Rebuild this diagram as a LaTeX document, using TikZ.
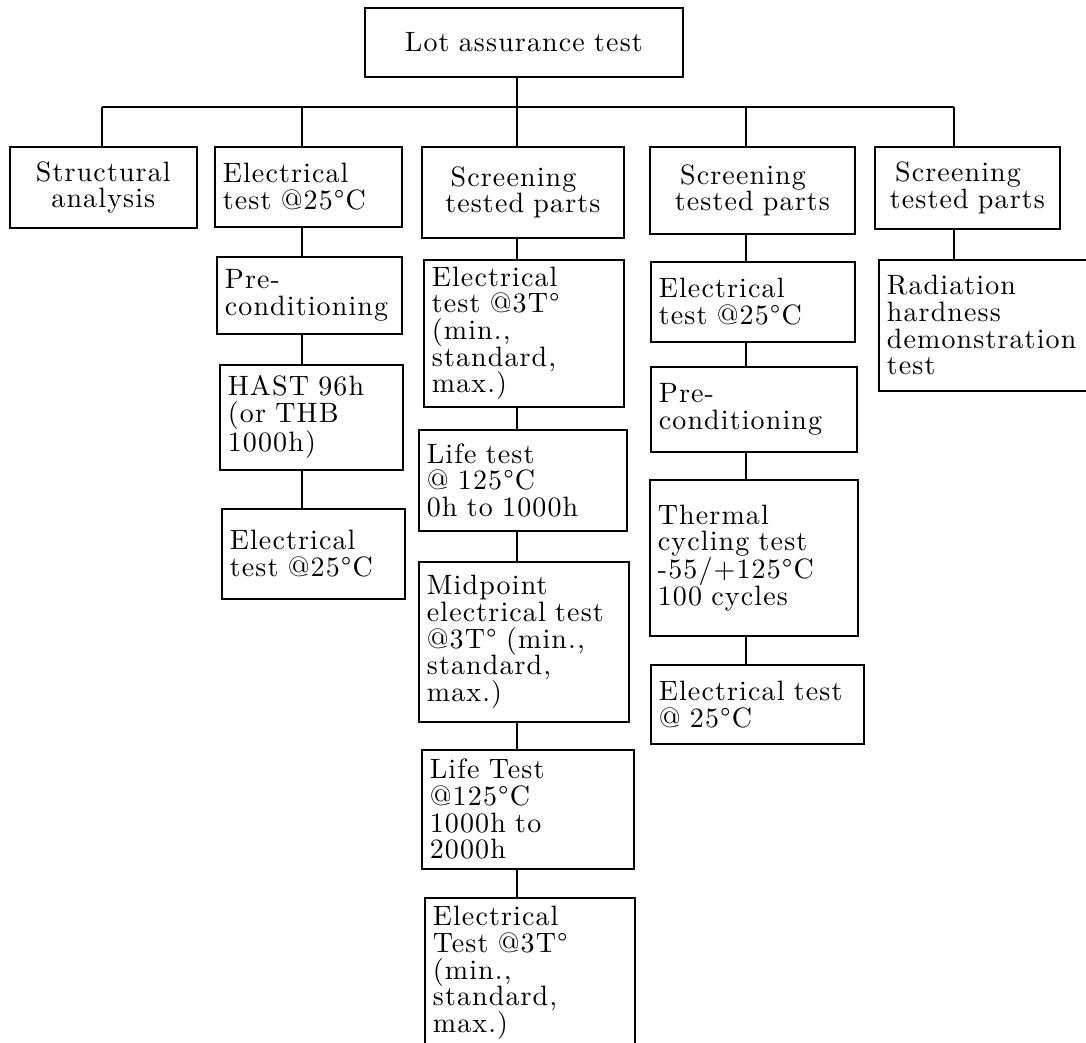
\documentclass[tikz,border=0pt]{standalone}
\usepackage{fontspec}
\setmainfont{lmroman10-regular.otf}[BoldFont=lmroman10-bold.otf, ItalicFont=lmroman10-italic.otf, LetterSpace=4]
\begin{document}
\begin{tikzpicture}[x=0.75pt,y=-0.75pt,
  box/.style={draw, line width=1.3pt, inner ysep=0pt, inner xsep=6pt, anchor=north west,
              font=\fontsize{21}{20}\selectfont, align=left},
  cbox/.style={box, align=center},
  conn/.style={line width=1.5pt},
  busline/.style={line width=1.8pt}]
\useasboundingbox (0,0) rectangle (1086,1043);

% top
\node[cbox, text width=226.5pt, minimum height=51.75pt] (top) at (364,7) {Lot assurance test};

% row 1
\node[cbox, text width=128.25pt, minimum height=60.75pt] (S1) at (9,146) {Structural\\analysis};
\node[box,  text width=128.25pt, minimum height=60pt]    (E1) at (214,146) {Electrical\\test @25°C};
\node[cbox, text width=139.5pt,  minimum height=68.25pt] (C3) at (421,146) {Screening\rule{14pt}{0pt}\\tested parts};
\node[cbox, text width=141.75pt, minimum height=65.25pt] (C4) at (649,146) {Screening\rule{14pt}{0pt}\\tested parts};
\node[cbox, text width=126.75pt, minimum height=61.5pt]  (C5) at (874,146) {Screening\rule{14pt}{0pt}\\tested parts};

% column 2
\node[box, text width=126.75pt, minimum height=57.75pt] (PC2) at (216,256) {Pre-\\conditioning};
\node[box, text width=125.25pt, minimum height=78.75pt] (HAST) at (219,364) {HAST 96h\\(or THB\\1000h)};
\node[box, text width=125.25pt, minimum height=67.5pt]  (E2b) at (221,508) {Electrical\\test @25°C};

% column 3
\node[box, text width=138pt,   minimum height=110.25pt] (E3a) at (423,259) {Electrical\\test @3T°\\(min.,\\standard,\\max.)};
\node[box, text width=144pt,   minimum height=75.75pt]  (L3a) at (418,429) {Life test\\@ 125°C\\0h to 1000h};
\node[box, text width=145.5pt, minimum height=120pt]    (M3)  at (418,561) {Midpoint\\electrical test\\@3T° (min.,\\standard,\\max.)};
\node[box, text width=147pt,   minimum height=89.25pt]  (L3b) at (421,749) {Life Test\\@125°C\\1000h to\\2000h};
\node[box, text width=145.5pt, minimum height=112.5pt]  (E3b) at (424,897) {Electrical\\Test @3T°\\(min.,\\standard,\\max.)};

% column 4
\node[box, text width=141pt,    minimum height=60pt]    (E4a) at (650,261) {Electrical\\test @25°C};
\node[box, text width=142.5pt,  minimum height=63.75pt] (P4)  at (650,366) {Pre-\\conditioning};
\node[box, text width=144pt,    minimum height=117pt]   (T4)  at (649,479) {Thermal\\cycling test\\-55/+125°C\\100 cycles};
\node[box, text width=147.75pt, minimum height=59.25pt] (E4b) at (650,664) {Electrical test\\@ 25°C};

% column 5
\node[box, text width=150.75pt, minimum height=98.25pt] (R5) at (878,259) {Radiation\\hardness\\demonstration\\test};

% column axes and bus
\coordinate (xa) at (102,0);
\coordinate (xb) at (302,0);
\coordinate (xc) at (517,0);
\coordinate (xd) at (746,0);
\coordinate (xe) at (954,0);
\coordinate (bus) at (0,107);

\draw[busline] (xa |- bus) -- (xe |- bus);
\draw[conn] (xc |- top.south) -- (xc |- bus);
\draw[conn] (xa |- bus) -- (xa |- S1.north);
\draw[conn] (xb |- bus) -- (xb |- E1.north);
\draw[conn] (xc |- bus) -- (xc |- C3.north);
\draw[conn] (xd |- bus) -- (xd |- C4.north);
\draw[conn] (xe |- bus) -- (xe |- C5.north);

\draw[conn] (xb |- E1.south) -- (xb |- PC2.north);
\draw[conn] (xb |- PC2.south) -- (xb |- HAST.north);
\draw[conn] (xb |- HAST.south) -- (xb |- E2b.north);

\draw[conn] (xc |- C3.south) -- (xc |- E3a.north);
\draw[conn] (xc |- E3a.south) -- (xc |- L3a.north);
\draw[conn] (xc |- L3a.south) -- (xc |- M3.north);
\draw[conn] (xc |- M3.south) -- (xc |- L3b.north);
\draw[conn] (xc |- L3b.south) -- (xc |- E3b.north);

\draw[conn] (xd |- C4.south) -- (xd |- E4a.north);
\draw[conn] (xd |- E4a.south) -- (xd |- P4.north);
\draw[conn] (xd |- P4.south) -- (xd |- T4.north);
\draw[conn] (xd |- T4.south) -- (xd |- E4b.north);

\draw[conn] (xe |- C5.south) -- (xe |- R5.north);
\end{tikzpicture}
\end{document}
